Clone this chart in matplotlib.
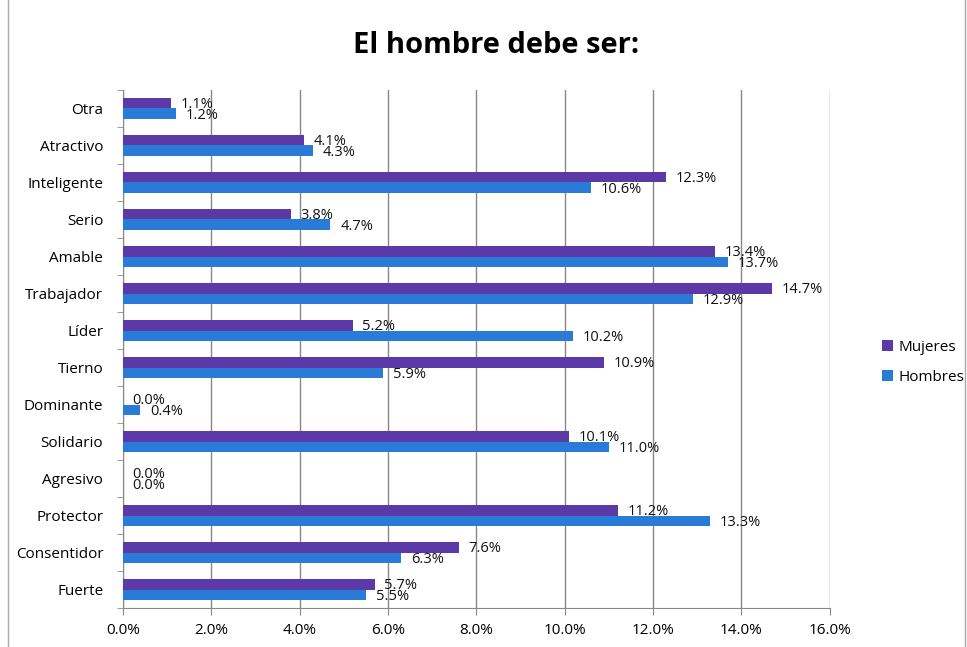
import numpy as np
import matplotlib.pyplot as plt

plt.rcParams['font.family'] = ['Open Sans', 'DejaVu Sans']

categories = ['Fuerte', 'Consentidor', 'Protector', 'Agresivo', 'Solidario', 'Dominante',
              'Tierno', 'Líder', 'Trabajador', 'Amable', 'Serio', 'Inteligente',
              'Atractivo', 'Otra']
mujeres = [5.7, 7.6, 11.2, 0.0, 10.1, 0.0, 10.9, 5.2, 14.7, 13.4, 3.8, 12.3, 4.1, 1.1]
hombres = [5.5, 6.3, 13.3, 0.0, 11.0, 0.4, 5.9, 10.2, 12.9, 13.7, 4.7, 10.6, 4.3, 1.2]
xticks = [0, 2, 4, 6, 8, 10, 12, 14, 16]

c_muj = '#5b3aa8'
c_hom = '#2a7ad8'

fig = plt.figure(figsize=(9.67, 6.47), dpi=100)
ax = fig.add_axes([0.127, 0.060, 0.731, 0.801])

y = np.arange(len(categories))
h = 0.28
ax.barh(y + h / 2, mujeres, height=h, color=c_muj, label='Mujeres', zorder=3)
ax.barh(y - h / 2, hombres, height=h, color=c_hom, label='Hombres', zorder=3)

for yi, v in zip(y, mujeres):
    ax.annotate(f'{v:.1f}%', (v, yi + h / 2), xytext=(7, -1), textcoords='offset points',
                va='center', ha='left', fontsize=10.5, color='#111111', zorder=4)
for yi, v in zip(y, hombres):
    ax.annotate(f'{v:.1f}%', (v, yi - h / 2), xytext=(7, -1), textcoords='offset points',
                va='center', ha='left', fontsize=10.5, color='#111111', zorder=4)

ax.set_xlim(0, 16)
ax.set_ylim(-0.5, len(categories) - 0.5)
ax.set_xticks(xticks)
ax.set_xticklabels([f'{t:.1f}%' for t in xticks], fontsize=11)
ax.set_yticks(y)
ax.set_yticklabels(categories, fontsize=11)
ax.set_yticks(np.arange(-0.5, len(categories), 1), minor=True)
ax.tick_params(axis='y', which='major', length=0, pad=14)
ax.tick_params(axis='y', which='minor', length=4, color='#888888')
ax.tick_params(axis='x', length=5, color='#888888', pad=6)
ax.grid(axis='x', color='#888888', linewidth=1, zorder=0)

for s in ['top', 'right']:
    ax.spines[s].set_visible(False)
for s in ['left', 'bottom']:
    ax.spines[s].set_color('#888888')

fig.text(0.513, 0.93, 'El hombre debe ser:', ha='center', va='center',
         fontsize=21, fontweight='bold')

handles, labels = ax.get_legend_handles_labels()
fig.legend(handles, labels, loc='center left', bbox_to_anchor=(0.898, 0.44),
           frameon=False, fontsize=11, handlelength=0.7, handleheight=0.7,
           labelspacing=1.0, handletextpad=0.4)

fig.patches.append(plt.Rectangle((0.008, -0.01), 0.99, 1.02, transform=fig.transFigure,
                                 fill=False, edgecolor='#aaaaaa', linewidth=1))

fig.savefig('out.png', dpi=100)
